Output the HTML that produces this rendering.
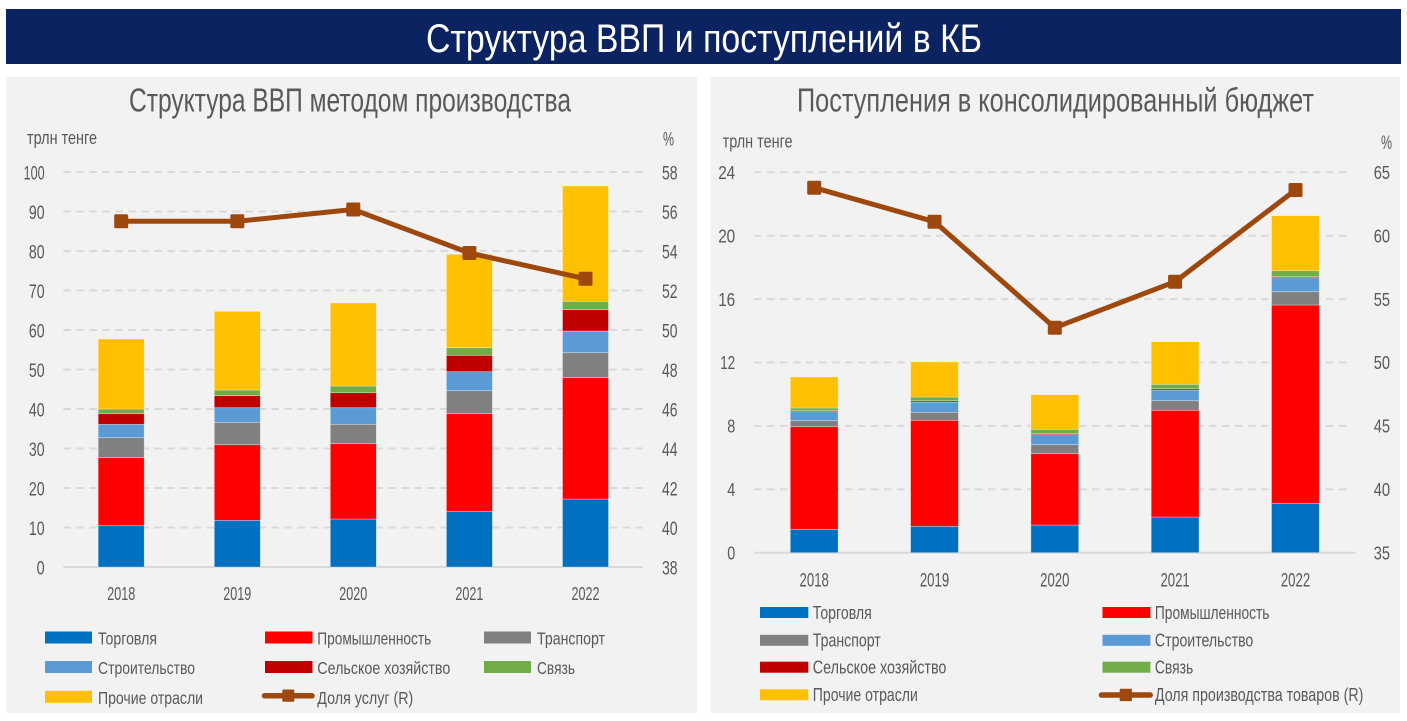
<!DOCTYPE html>
<html><head><meta charset="utf-8"><style>
html,body{margin:0;padding:0;background:#fff;}
svg{display:block;}
text{font-family:"Liberation Sans","DejaVu Sans",sans-serif;}
</style></head><body>
<svg width="1407" height="721" viewBox="0 0 1407 721" xmlns="http://www.w3.org/2000/svg">
<rect x="0" y="0" width="1407" height="721" fill="#ffffff"/>
<rect x="6" y="9" width="1395" height="55" fill="#0b2361"/>
<text x="426" y="52" font-size="40" fill="#ffffff" textLength="556" lengthAdjust="spacingAndGlyphs">Структура ВВП и поступлений в КБ</text>

<!-- LEFT PANEL -->
<rect x="6" y="77" width="691" height="636" fill="#f2f2f2"/>
<text x="129" y="111.7" font-size="33" fill="#595959" textLength="442" lengthAdjust="spacingAndGlyphs">Структура ВВП методом производства</text>
<text x="27" y="144" font-size="18" fill="#595959" textLength="70" lengthAdjust="spacingAndGlyphs">трлн тенге</text>
<text x="663" y="145.7" font-size="19" fill="#595959" textLength="11" lengthAdjust="spacingAndGlyphs">%</text>

<g stroke="#d9d9d9" stroke-width="2" stroke-dasharray="7.5,5.5">
<line x1="63.4" y1="527.5" x2="643" y2="527.5"/>
<line x1="63.4" y1="488" x2="643" y2="488"/>
<line x1="63.4" y1="448.5" x2="643" y2="448.5"/>
<line x1="63.4" y1="409" x2="643" y2="409"/>
<line x1="63.4" y1="369.5" x2="643" y2="369.5"/>
<line x1="63.4" y1="330" x2="643" y2="330"/>
<line x1="63.4" y1="290.5" x2="643" y2="290.5"/>
<line x1="63.4" y1="251" x2="643" y2="251"/>
<line x1="63.4" y1="211.5" x2="643" y2="211.5"/>
<line x1="63.4" y1="172" x2="643" y2="172"/>
</g>
<line x1="63.4" y1="567" x2="643" y2="567" stroke="#d9d9d9" stroke-width="2"/>

<g font-size="19.6" fill="#595959" text-anchor="end">
<text x="44.6" y="574.3" textLength="8" lengthAdjust="spacingAndGlyphs">0</text>
<text x="44.6" y="534.8" textLength="15.7" lengthAdjust="spacingAndGlyphs">10</text>
<text x="44.6" y="495.3" textLength="15.7" lengthAdjust="spacingAndGlyphs">20</text>
<text x="44.6" y="455.8" textLength="15.7" lengthAdjust="spacingAndGlyphs">30</text>
<text x="44.6" y="416.3" textLength="15.7" lengthAdjust="spacingAndGlyphs">40</text>
<text x="44.6" y="376.8" textLength="15.7" lengthAdjust="spacingAndGlyphs">50</text>
<text x="44.6" y="337.3" textLength="15.7" lengthAdjust="spacingAndGlyphs">60</text>
<text x="44.6" y="297.8" textLength="15.7" lengthAdjust="spacingAndGlyphs">70</text>
<text x="44.6" y="258.3" textLength="15.7" lengthAdjust="spacingAndGlyphs">80</text>
<text x="44.6" y="218.8" textLength="15.7" lengthAdjust="spacingAndGlyphs">90</text>
<text x="44.6" y="179.3" textLength="21" lengthAdjust="spacingAndGlyphs">100</text>
</g>
<g font-size="19.6" fill="#595959">
<text x="662" y="574.3" textLength="15.6" lengthAdjust="spacingAndGlyphs">38</text>
<text x="662" y="534.8" textLength="15.6" lengthAdjust="spacingAndGlyphs">40</text>
<text x="662" y="495.3" textLength="15.6" lengthAdjust="spacingAndGlyphs">42</text>
<text x="662" y="455.8" textLength="15.6" lengthAdjust="spacingAndGlyphs">44</text>
<text x="662" y="416.3" textLength="15.6" lengthAdjust="spacingAndGlyphs">46</text>
<text x="662" y="376.8" textLength="15.6" lengthAdjust="spacingAndGlyphs">48</text>
<text x="662" y="337.3" textLength="15.6" lengthAdjust="spacingAndGlyphs">50</text>
<text x="662" y="297.8" textLength="15.6" lengthAdjust="spacingAndGlyphs">52</text>
<text x="662" y="258.3" textLength="15.6" lengthAdjust="spacingAndGlyphs">54</text>
<text x="662" y="218.8" textLength="15.6" lengthAdjust="spacingAndGlyphs">56</text>
<text x="662" y="179.3" textLength="15.6" lengthAdjust="spacingAndGlyphs">58</text>
</g>

<!-- left bars -->
<g stroke="#ffffff" stroke-opacity="0.45" stroke-width="0.7">
<!-- 2018 x=98.2 -->
<rect x="98.2" y="525.7" width="46" height="41.3" fill="#0070c0"/>
<rect x="98.2" y="457.7" width="46" height="68" fill="#ff0000"/>
<rect x="98.2" y="437.7" width="46" height="20" fill="#808080"/>
<rect x="98.2" y="424.3" width="46" height="13.4" fill="#5b9bd5"/>
<rect x="98.2" y="413.7" width="46" height="10.6" fill="#c00000"/>
<rect x="98.2" y="409" width="46" height="4.7" fill="#70ad47"/>
<rect x="98.2" y="339" width="46" height="70" fill="#ffc000"/>
<!-- 2019 x=214.3 -->
<rect x="214.3" y="520.3" width="46" height="46.7" fill="#0070c0"/>
<rect x="214.3" y="444.7" width="46" height="75.6" fill="#ff0000"/>
<rect x="214.3" y="422.3" width="46" height="22.4" fill="#808080"/>
<rect x="214.3" y="407.7" width="46" height="14.6" fill="#5b9bd5"/>
<rect x="214.3" y="395.7" width="46" height="12" fill="#c00000"/>
<rect x="214.3" y="390" width="46" height="5.7" fill="#70ad47"/>
<rect x="214.3" y="311.3" width="46" height="78.7" fill="#ffc000"/>
<!-- 2020 x=330.3 -->
<rect x="330.3" y="519" width="46" height="48" fill="#0070c0"/>
<rect x="330.3" y="443.7" width="46" height="75.3" fill="#ff0000"/>
<rect x="330.3" y="424.3" width="46" height="19.4" fill="#808080"/>
<rect x="330.3" y="407.7" width="46" height="16.6" fill="#5b9bd5"/>
<rect x="330.3" y="392.7" width="46" height="15" fill="#c00000"/>
<rect x="330.3" y="386" width="46" height="6.7" fill="#70ad47"/>
<rect x="330.3" y="303" width="46" height="83" fill="#ffc000"/>
<!-- 2021 x=446.4 -->
<rect x="446.4" y="511.3" width="46" height="55.7" fill="#0070c0"/>
<rect x="446.4" y="413.7" width="46" height="97.6" fill="#ff0000"/>
<rect x="446.4" y="390.7" width="46" height="23" fill="#808080"/>
<rect x="446.4" y="371.7" width="46" height="19" fill="#5b9bd5"/>
<rect x="446.4" y="355.3" width="46" height="16.4" fill="#c00000"/>
<rect x="446.4" y="347.7" width="46" height="7.6" fill="#70ad47"/>
<rect x="446.4" y="254.3" width="46" height="93.4" fill="#ffc000"/>
<!-- 2022 x=562.5 -->
<rect x="562.5" y="499" width="46" height="68" fill="#0070c0"/>
<rect x="562.5" y="377.7" width="46" height="121.3" fill="#ff0000"/>
<rect x="562.5" y="352.7" width="46" height="25" fill="#808080"/>
<rect x="562.5" y="331" width="46" height="21.7" fill="#5b9bd5"/>
<rect x="562.5" y="309.7" width="46" height="21.3" fill="#c00000"/>
<rect x="562.5" y="301.3" width="46" height="8.4" fill="#70ad47"/>
<rect x="562.5" y="186" width="46" height="115.3" fill="#ffc000"/>
</g>

<polyline points="121.2,221.3 237.3,221.3 353.3,209.5 469.4,253 585.5,278.8" fill="none" stroke="#9e480e" stroke-width="5" stroke-linejoin="round"/>
<g fill="#9e480e">
<rect x="114.2" y="214.3" width="14" height="14" rx="1.5"/>
<rect x="230.3" y="214.3" width="14" height="14" rx="1.5"/>
<rect x="346.3" y="202.5" width="14" height="14" rx="1.5"/>
<rect x="462.4" y="246" width="14" height="14" rx="1.5"/>
<rect x="578.5" y="271.8" width="14" height="14" rx="1.5"/>
</g>

<g font-size="18" fill="#595959" text-anchor="middle">
<text x="121.2" y="600" textLength="28" lengthAdjust="spacingAndGlyphs">2018</text>
<text x="237.3" y="600" textLength="28" lengthAdjust="spacingAndGlyphs">2019</text>
<text x="353.3" y="600" textLength="28" lengthAdjust="spacingAndGlyphs">2020</text>
<text x="469.4" y="600" textLength="28" lengthAdjust="spacingAndGlyphs">2021</text>
<text x="585.5" y="600" textLength="28" lengthAdjust="spacingAndGlyphs">2022</text>
</g>

<!-- left legend -->
<rect x="45" y="631.5" width="47" height="12" fill="#0070c0"/>
<rect x="265" y="631.5" width="47.5" height="12" fill="#ff0000"/>
<rect x="484" y="631.5" width="47" height="12" fill="#808080"/>
<rect x="45" y="661" width="47" height="12" fill="#5b9bd5"/>
<rect x="265" y="661" width="47.5" height="12" fill="#c00000"/>
<rect x="484" y="661" width="47" height="12" fill="#70ad47"/>
<rect x="45" y="690.8" width="47" height="12" fill="#ffc000"/>
<line x1="264.5" y1="695.8" x2="312" y2="695.8" stroke="#9e480e" stroke-width="5.5" stroke-linecap="round"/>
<rect x="282.3" y="689.5" width="12" height="12.3" rx="1" fill="#9e480e"/>
<g font-size="17.5" fill="#595959">
<text x="98" y="644.7" textLength="59" lengthAdjust="spacingAndGlyphs">Торговля</text>
<text x="317.3" y="644.7" textLength="114" lengthAdjust="spacingAndGlyphs">Промышленность</text>
<text x="537" y="644.7" textLength="68" lengthAdjust="spacingAndGlyphs">Транспорт</text>
<text x="98" y="674" textLength="97" lengthAdjust="spacingAndGlyphs">Строительство</text>
<text x="317.3" y="674" textLength="133" lengthAdjust="spacingAndGlyphs">Сельское хозяйство</text>
<text x="537" y="674" textLength="38" lengthAdjust="spacingAndGlyphs">Связь</text>
<text x="98" y="703.8" textLength="105" lengthAdjust="spacingAndGlyphs">Прочие отрасли</text>
<text x="317.3" y="703.8" textLength="96" lengthAdjust="spacingAndGlyphs">Доля услуг (R)</text>
</g>

<!-- RIGHT PANEL -->
<rect x="710.8" y="77" width="689.2" height="636" fill="#f2f2f2"/>
<text x="797" y="111.7" font-size="33" fill="#595959" textLength="517" lengthAdjust="spacingAndGlyphs">Поступления в консолидированный бюджет</text>
<text x="722.6" y="147.3" font-size="18" fill="#595959" textLength="70" lengthAdjust="spacingAndGlyphs">трлн тенге</text>
<text x="1381" y="149" font-size="19" fill="#595959" textLength="11" lengthAdjust="spacingAndGlyphs">%</text>

<g stroke="#d9d9d9" stroke-width="2" stroke-dasharray="7.5,5.5">
<line x1="754" y1="489.3" x2="1352" y2="489.3"/>
<line x1="754" y1="425.9" x2="1352" y2="425.9"/>
<line x1="754" y1="362.5" x2="1352" y2="362.5"/>
<line x1="754" y1="299.1" x2="1352" y2="299.1"/>
<line x1="754" y1="235.7" x2="1352" y2="235.7"/>
<line x1="754" y1="172.3" x2="1352" y2="172.3"/>
</g>
<line x1="754" y1="552.7" x2="1355.7" y2="552.7" stroke="#d9d9d9" stroke-width="2"/>

<g font-size="18" fill="#595959" text-anchor="end">
<text x="735.2" y="559.4" textLength="8" lengthAdjust="spacingAndGlyphs">0</text>
<text x="735.2" y="496" textLength="8" lengthAdjust="spacingAndGlyphs">4</text>
<text x="735.2" y="432.6" textLength="8" lengthAdjust="spacingAndGlyphs">8</text>
<text x="735.2" y="369.2" textLength="15" lengthAdjust="spacingAndGlyphs">12</text>
<text x="735.2" y="305.8" textLength="17" lengthAdjust="spacingAndGlyphs">16</text>
<text x="735.2" y="242.4" textLength="17" lengthAdjust="spacingAndGlyphs">20</text>
<text x="735.2" y="179" textLength="17" lengthAdjust="spacingAndGlyphs">24</text>
</g>
<g font-size="18" fill="#595959">
<text x="1373.7" y="559.4" textLength="16.3" lengthAdjust="spacingAndGlyphs">35</text>
<text x="1373.7" y="496" textLength="16.3" lengthAdjust="spacingAndGlyphs">40</text>
<text x="1373.7" y="432.6" textLength="16.3" lengthAdjust="spacingAndGlyphs">45</text>
<text x="1373.7" y="369.2" textLength="16.3" lengthAdjust="spacingAndGlyphs">50</text>
<text x="1373.7" y="305.8" textLength="16.3" lengthAdjust="spacingAndGlyphs">55</text>
<text x="1373.7" y="242.4" textLength="16.3" lengthAdjust="spacingAndGlyphs">60</text>
<text x="1373.7" y="179" textLength="16.3" lengthAdjust="spacingAndGlyphs">65</text>
</g>

<g stroke="#ffffff" stroke-opacity="0.45" stroke-width="0.7">
<!-- 2018 x=790.3 -->
<rect x="790.3" y="529.3" width="47.8" height="23.4" fill="#0070c0"/>
<rect x="790.3" y="426.7" width="47.8" height="102.6" fill="#ff0000"/>
<rect x="790.3" y="420.7" width="47.8" height="6" fill="#808080"/>
<rect x="790.3" y="411.7" width="47.8" height="9" fill="#5b9bd5"/>
<rect x="790.3" y="410.7" width="47.8" height="1" fill="#c00000"/>
<rect x="790.3" y="408" width="47.8" height="2.7" fill="#70ad47"/>
<rect x="790.3" y="377" width="47.8" height="31" fill="#ffc000"/>
<!-- 2019 x=910.6 -->
<rect x="910.6" y="526.3" width="47.8" height="26.4" fill="#0070c0"/>
<rect x="910.6" y="420.3" width="47.8" height="106" fill="#ff0000"/>
<rect x="910.6" y="412.3" width="47.8" height="8" fill="#808080"/>
<rect x="910.6" y="402" width="47.8" height="10.3" fill="#5b9bd5"/>
<rect x="910.6" y="400.7" width="47.8" height="1.3" fill="#c00000"/>
<rect x="910.6" y="397" width="47.8" height="3.7" fill="#70ad47"/>
<rect x="910.6" y="362" width="47.8" height="35" fill="#ffc000"/>
<!-- 2020 x=1030.9 -->
<rect x="1030.9" y="525" width="47.8" height="27.7" fill="#0070c0"/>
<rect x="1030.9" y="453.7" width="47.8" height="71.3" fill="#ff0000"/>
<rect x="1030.9" y="444.7" width="47.8" height="9" fill="#808080"/>
<rect x="1030.9" y="434.7" width="47.8" height="10" fill="#5b9bd5"/>
<rect x="1030.9" y="433.7" width="47.8" height="1" fill="#c00000"/>
<rect x="1030.9" y="429.3" width="47.8" height="4.4" fill="#70ad47"/>
<rect x="1030.9" y="394.7" width="47.8" height="34.6" fill="#ffc000"/>
<!-- 2021 x=1151.2 -->
<rect x="1151.2" y="517" width="47.8" height="35.7" fill="#0070c0"/>
<rect x="1151.2" y="410.3" width="47.8" height="106.7" fill="#ff0000"/>
<rect x="1151.2" y="400.7" width="47.8" height="9.6" fill="#808080"/>
<rect x="1151.2" y="390" width="47.8" height="10.7" fill="#5b9bd5"/>
<rect x="1151.2" y="388.7" width="47.8" height="1.3" fill="#c00000"/>
<rect x="1151.2" y="384.3" width="47.8" height="4.4" fill="#70ad47"/>
<rect x="1151.2" y="341.7" width="47.8" height="42.6" fill="#ffc000"/>
<!-- 2022 x=1271.5 -->
<rect x="1271.5" y="503.3" width="47.8" height="49.4" fill="#0070c0"/>
<rect x="1271.5" y="305" width="47.8" height="198.3" fill="#ff0000"/>
<rect x="1271.5" y="291.7" width="47.8" height="13.3" fill="#808080"/>
<rect x="1271.5" y="277.7" width="47.8" height="14" fill="#5b9bd5"/>
<rect x="1271.5" y="276.7" width="47.8" height="1" fill="#c00000"/>
<rect x="1271.5" y="270.7" width="47.8" height="6" fill="#70ad47"/>
<rect x="1271.5" y="215.7" width="47.8" height="55" fill="#ffc000"/>
</g>

<polyline points="814.2,187.7 934.5,221.7 1054.8,327.7 1175.1,281.7 1295.5,190" fill="none" stroke="#9e480e" stroke-width="5" stroke-linejoin="round"/>
<g fill="#9e480e">
<rect x="807.2" y="180.7" width="14" height="14" rx="1.5"/>
<rect x="927.5" y="214.7" width="14" height="14" rx="1.5"/>
<rect x="1047.8" y="320.7" width="14" height="14" rx="1.5"/>
<rect x="1168.1" y="274.7" width="14" height="14" rx="1.5"/>
<rect x="1288.5" y="183" width="14" height="14" rx="1.5"/>
</g>

<g font-size="19.6" fill="#595959" text-anchor="middle">
<text x="814.2" y="586.7" textLength="29.3" lengthAdjust="spacingAndGlyphs">2018</text>
<text x="934.5" y="586.7" textLength="29.3" lengthAdjust="spacingAndGlyphs">2019</text>
<text x="1054.8" y="586.7" textLength="29.3" lengthAdjust="spacingAndGlyphs">2020</text>
<text x="1175.1" y="586.7" textLength="29.3" lengthAdjust="spacingAndGlyphs">2021</text>
<text x="1295.5" y="586.7" textLength="29.3" lengthAdjust="spacingAndGlyphs">2022</text>
</g>

<!-- right legend -->
<rect x="760" y="607" width="48.3" height="11" fill="#0070c0"/>
<rect x="1102.5" y="607" width="47.9" height="11" fill="#ff0000"/>
<rect x="760" y="634.8" width="48.3" height="11" fill="#808080"/>
<rect x="1102.5" y="634.8" width="47.9" height="11" fill="#5b9bd5"/>
<rect x="760" y="661.7" width="48.3" height="11" fill="#c00000"/>
<rect x="1102.5" y="661.7" width="47.9" height="11" fill="#70ad47"/>
<rect x="760" y="689.3" width="48.3" height="11" fill="#ffc000"/>
<line x1="1101.5" y1="695" x2="1150.2" y2="695" stroke="#9e480e" stroke-width="5.5" stroke-linecap="round"/>
<rect x="1119.7" y="688.8" width="12.2" height="12.3" rx="1" fill="#9e480e"/>
<g font-size="18" fill="#595959">
<text x="812.8" y="619" textLength="59" lengthAdjust="spacingAndGlyphs">Торговля</text>
<text x="1154.9" y="619" textLength="114.6" lengthAdjust="spacingAndGlyphs">Промышленность</text>
<text x="812.8" y="646.6" textLength="68" lengthAdjust="spacingAndGlyphs">Транспорт</text>
<text x="1154.9" y="646.6" textLength="98.4" lengthAdjust="spacingAndGlyphs">Строительство</text>
<text x="812.8" y="673.5" textLength="133.6" lengthAdjust="spacingAndGlyphs">Сельское хозяйство</text>
<text x="1154.9" y="673.5" textLength="38.4" lengthAdjust="spacingAndGlyphs">Связь</text>
<text x="812.8" y="701" textLength="105" lengthAdjust="spacingAndGlyphs">Прочие отрасли</text>
<text x="1154.9" y="701" textLength="208.5" lengthAdjust="spacingAndGlyphs">Доля производства товаров (R)</text>
</g>
</svg>
</body></html>
